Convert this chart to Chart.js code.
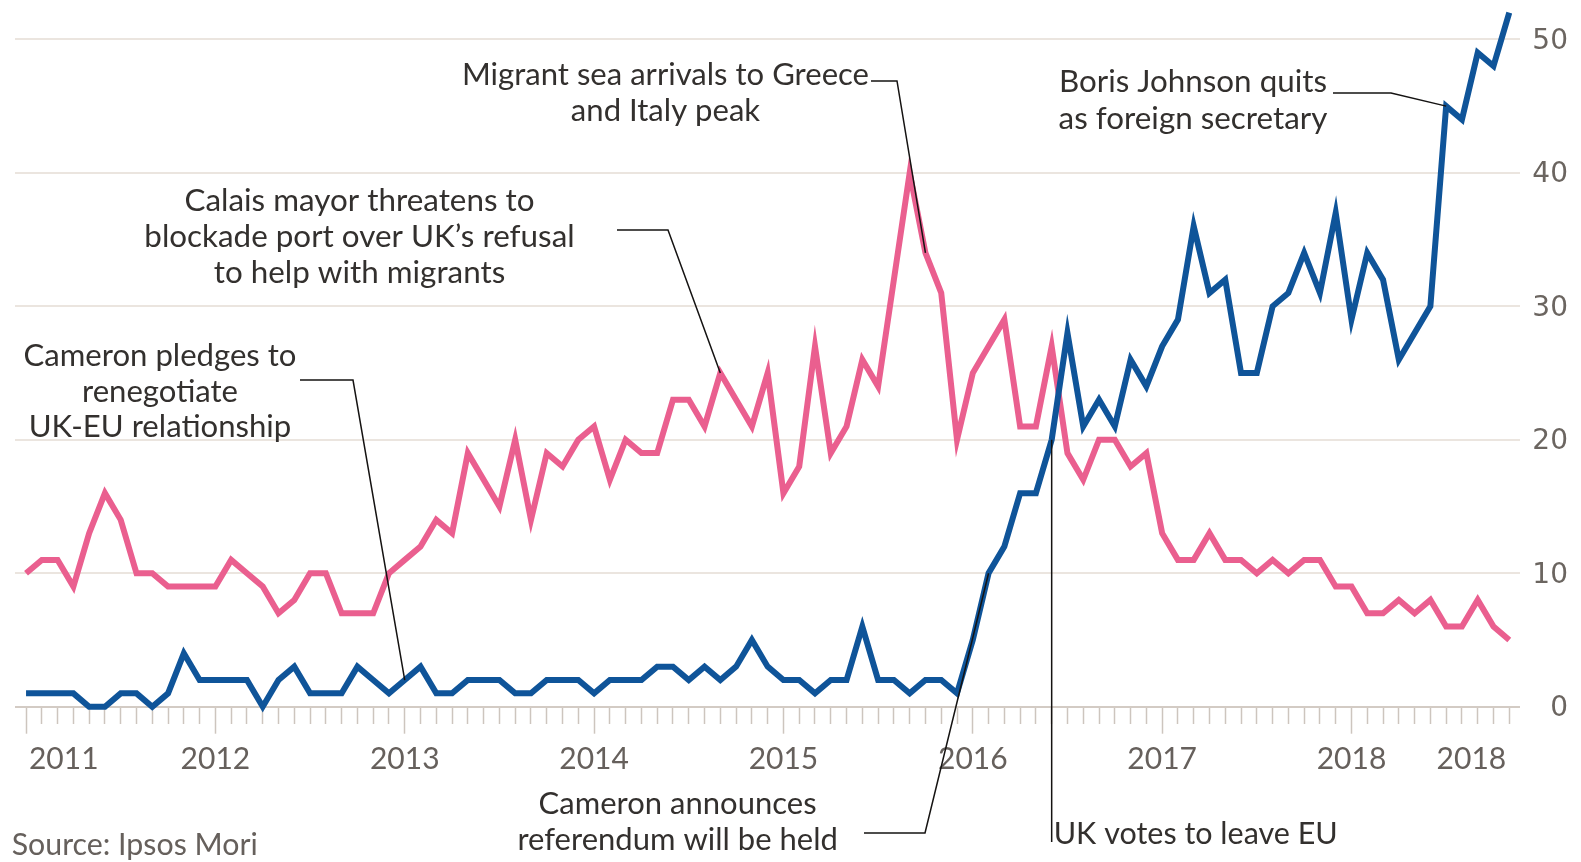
<!DOCTYPE html>
<html>
<head>
<meta charset="utf-8">
<script src="https://cdn.jsdelivr.net/npm/chart.js@4.4.1/dist/chart.umd.min.js"></script>
<style>
html,body{margin:0;padding:0;background:#ffffff;}
#wrap{width:1581px;height:862px;position:relative;background:#ffffff;}
canvas{display:block;}
</style>
</head>
<body>
<div id="wrap"><canvas id="c" width="1581" height="862"></canvas></div>
<script>
// ---------------- DATA ----------------
// Monthly, Jan 2011 .. Nov 2018 (95 months)
const months = [];
for (let y = 2011; y <= 2018; y++) {
  for (let m = 1; m <= 12; m++) {
    if (months.length < 95) months.push(y + '-' + String(m).padStart(2, '0'));
  }
}
// Europe / EU (blue)
const europe = [
  1,1,1,1,0,0,1,1,0,1,4,2,
  2,2,2,0,2,3,1,1,1,3,2,1,
  2,3,1,1,2,2,2,1,1,2,2,2,
  1,2,2,2,3,3,2,3,2,3,5,3,
  2,2,1,2,2,6,2,2,1,2,2,1,
  5,10,12,16,16,20,28,21,23,21,26,24,
  27,29,36,31,32,25,25,30,31,34,31,37,
  29,34,32,26,28,30,45,44,49,48,52
];
// Immigration (pink)
const immigration = [
  10,11,11,9,13,16,14,10,10,9,9,9,
  9,11,10,9,7,8,10,10,7,7,7,10,
  11,12,14,13,19,17,15,20,14,19,18,20,
  21,17,20,19,19,23,23,21,25,23,21,25,
  16,18,27,19,21,26,24,32,40,34,31,20,
  25,27,29,21,21,27,19,17,20,20,18,19,
  13,11,11,13,11,11,10,11,10,11,11,9,
  9,7,7,8,7,8,6,6,8,6,5
];
const yTickValues = [0, 10, 20, 30, 40, 50];
const xYearLabels = ['2011','2012','2013','2014','2015','2016','2017','2018','2018'];
const annotationTexts = [
  ['Migrant sea arrivals to Greece', 'and Italy peak'],
  ['Calais mayor threatens to', 'blockade port over UK\u2019s refusal', 'to help with migrants'],
  ['Cameron pledges to', 'renegotiate', 'UK-EU relationship'],
  ['Boris Johnson quits', 'as foreign secretary'],
  ['Cameron announces', 'referendum will be held'],
  ['UK votes to leave EU']
];
const sourceText = 'Source: Ipsos Mori';

// ---------------- LAYOUT / STYLE ----------------
const xLabelAt = [2.39, 12, 24, 36, 48, 60, 72, 84, 91.6];   // month index where each year label sits
const annotationSeries = [immigration, immigration, europe, europe, europe, europe];
const annotationMonth = [57, 44, 24, 90, 61, 65];
const annotationLayout = [
  {cx: 665.5, base: [85, 121], w: 407, leader: [[871, 81], [897, 81]]},
  {cx: 359.5, base: [211, 246.5, 282.5], w: 350, leader: [[617, 230], [668, 230]]},
  {cx: 160, base: [365.5, 401.5, 437], w: 273, leader: [[300, 380], [353, 380]]},
  {cx: 1193, base: [92, 128.5], w: 268, leader: [[1333, 93], [1391, 93]]},
  {cx: 677.6, base: [814, 849.5], w: 278, leader: [[864, 833], [925, 833]]},
  {left: 1053.7, base: [843.5], w: 284, vertical: 842}
];
const PINK = '#ea5f8f';
const BLUE = '#0f5499';
const TEXT = '#33302e';
const GREY = '#66605c';

const mctx = document.createElement('canvas').getContext('2d');
mctx.font = '28px "DejaVu Sans"';
const yLabelW = mctx.measureText('50').width;

const xTickList = [];
for (let i = 0; i < months.length; i++) xTickList.push(i);
xLabelAt.forEach(v => { if (!xTickList.includes(v)) xTickList.push(v); });
xTickList.sort((a, b) => a - b);

function xLabelFor(v) {
  const k = xLabelAt.indexOf(v);
  return k >= 0 ? xYearLabels[k] : '';
}
const isMonth = v => Number.isInteger(v);

function drawBlock(ctx, lines, lay, font, color) {
  ctx.font = font;
  const w0 = ctx.measureText(lines[0]).width;
  const s = lay.w / w0;
  ctx.fillStyle = color;
  ctx.textBaseline = 'alphabetic';
  lines.forEach((t, k) => {
    ctx.save();
    if (lay.left !== undefined) {
      ctx.translate(lay.left, lay.base[k]);
      ctx.textAlign = 'left';
    } else {
      ctx.translate(lay.cx, lay.base[k]);
      ctx.textAlign = 'center';
    }
    ctx.scale(s, 1);
    ctx.fillText(t, 0, 0);
    ctx.restore();
  });
}

const annotatePlugin = {
  id: 'annotate',
  afterDatasetsDraw(chart) {
    const ctx = chart.ctx;
    const xs = chart.scales.x, ys = chart.scales.y;
    ctx.save();
    ctx.strokeStyle = '#151312';
    ctx.lineWidth = 1.5;
    annotationLayout.forEach((lay, k) => {
      const arr = annotationSeries[k];
      const i = annotationMonth[k];
      const px = xs.getPixelForValue(i), py = ys.getPixelForValue(arr[i]);
      ctx.beginPath();
      if (lay.vertical !== undefined) {
        ctx.moveTo(px, py);
        ctx.lineTo(px, lay.vertical);
      } else {
        ctx.moveTo(lay.leader[0][0], lay.leader[0][1]);
        for (let j = 1; j < lay.leader.length; j++) ctx.lineTo(lay.leader[j][0], lay.leader[j][1]);
        ctx.lineTo(px, py);
      }
      ctx.stroke();
    });
    annotationLayout.forEach((lay, k) => {
      drawBlock(ctx, annotationTexts[k], lay, '30px Lato', TEXT);
    });
    drawBlock(ctx, [sourceText], {left: 11.7, base: [855], w: 246}, '30px Lato', GREY);
    ctx.restore();
  }
};

new Chart(document.getElementById('c'), {
  type: 'line',
  data: {
    datasets: [
      {
        label: 'Europe',
        data: europe.map((v, i) => ({x: i, y: v})),
        borderColor: BLUE,
        borderWidth: 6,
        pointRadius: 0,
        tension: 0,
        fill: false,
        clip: false
      },
      {
        label: 'Immigration',
        data: immigration.map((v, i) => ({x: i, y: v})),
        borderColor: PINK,
        borderWidth: 6,
        pointRadius: 0,
        tension: 0,
        fill: false,
        clip: false
      }
    ]
  },
  options: {
    responsive: false,
    maintainAspectRatio: false,
    devicePixelRatio: 1,
    animation: false,
    events: [],
    layout: {padding: {left: 15, right: 13, top: 0, bottom: 0}},
    plugins: {legend: {display: false}, tooltip: {enabled: false}},
    scales: {
      x: {
        type: 'linear',
        min: -0.7,
        max: 94.68,
        afterBuildTicks: s => { s.ticks = xTickList.map(v => ({value: v})); },
        afterFit: s => { s.height = 155.3; s.paddingLeft = 0; s.paddingRight = 0; },
        ticks: {
          autoSkip: false,
          maxRotation: 0,
          minRotation: 0,
          padding: 8,
          font: {family: 'Lato', size: 30},
          color: GREY,
          callback: v => xLabelFor(v)
        },
        grid: {
          drawOnChartArea: false,
          drawTicks: true,
          tickLength: 27,
          tickWidth: 1.5,
          tickColor: c => (c.tick && isMonth(c.tick.value)) ? '#cdc5be' : 'rgba(0,0,0,0)',
          tickBorderDash: c => (c.tick && c.tick.value % 12 === 0) ? [] : [17, 60]
        },
        border: {display: false}
      },
      y: {
        position: 'right',
        min: 0,
        max: 52.95,
        afterBuildTicks: s => { s.ticks = yTickValues.map(v => ({value: v})); },
        afterFit: s => { s.width = 48; s.paddingTop = 0; s.paddingBottom = 0; },
        ticks: {
          font: {family: 'DejaVu Sans', size: 28},
          color: '#6b6560',
          padding: 48 - yLabelW,
          crossAlign: 'far',
          labelOffset: 2,
          callback: v => String(v)
        },
        grid: {
          color: c => (c.tick && c.tick.value === 0) ? '#d3cbc4' : '#ebe5df',
          lineWidth: 2,
          drawTicks: false
        },
        border: {display: false}
      }
    }
  },
  plugins: [annotatePlugin]
});
</script>
</body>
</html>
